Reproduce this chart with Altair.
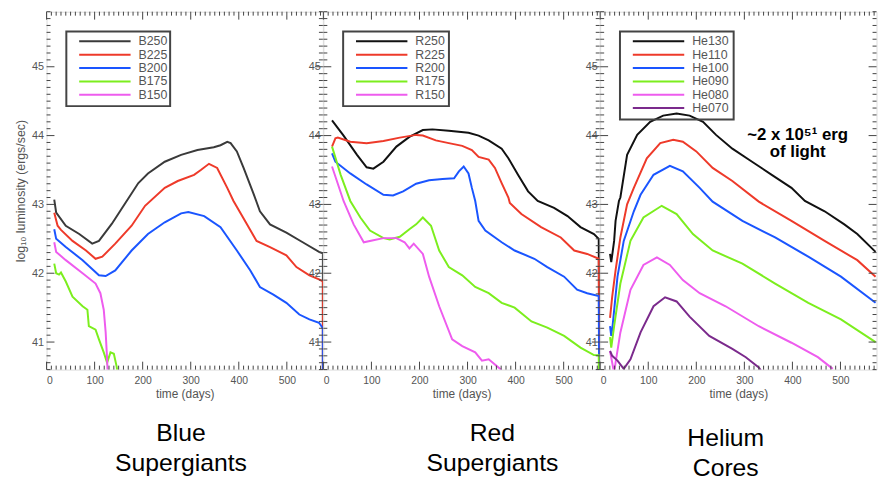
import altair as alt
import pandas as pd

# ---------------- data ----------------
blue_names = ["B250", "B225", "B200", "B175", "B150"]
red_names = ["R250", "R225", "R200", "R175", "R150"]
he_names = ["He130", "He110", "He100", "He090", "He080", "He070"]

colors6 = ["#111111", "#ee3a2a", "#1a55ff", "#7cee1e", "#ee5cee", "#7b2a8c"]

b250_t = [16, 20, 40, 68, 95, 109, 136, 164, 191, 211, 246, 280, 314, 348, 362, 376, 383, 396, 410, 431, 444, 465, 499, 533, 567, 575, 575]
b250_L = [43.07, 42.88, 42.69, 42.57, 42.43, 42.47, 42.72, 43.02, 43.31, 43.45, 43.62, 43.72, 43.79, 43.83, 43.86, 43.91, 43.89, 43.77, 43.53, 43.15, 42.90, 42.71, 42.59, 42.45, 42.31, 42.29, 39.0]
b225_t = [16, 23, 30, 54, 82, 102, 116, 143, 177, 205, 246, 273, 307, 321, 338, 355, 376, 389, 417, 437, 465, 499, 520, 547, 567, 575, 575]
b225_L = [42.88, 42.69, 42.63, 42.47, 42.33, 42.21, 42.24, 42.43, 42.69, 42.98, 43.24, 43.34, 43.43, 43.50, 43.59, 43.53, 43.24, 43.05, 42.71, 42.47, 42.38, 42.26, 42.09, 41.97, 41.91, 41.88, 39.0]
b200_t = [16, 20, 40, 75, 109, 123, 143, 177, 211, 246, 280, 295, 328, 362, 396, 424, 444, 472, 499, 526, 547, 567, 575, 575]
b200_L = [42.64, 42.50, 42.38, 42.19, 41.97, 41.96, 42.04, 42.33, 42.57, 42.74, 42.87, 42.89, 42.83, 42.67, 42.33, 42.04, 41.80, 41.69, 41.57, 41.40, 41.33, 41.28, 41.20, 39.0]
b175_t = [16, 20, 26, 30, 40, 54, 75, 85, 88, 102, 109, 119, 126, 133, 140, 146, 150]
b175_L = [42.14, 42.00, 41.98, 42.01, 41.88, 41.66, 41.52, 41.47, 41.23, 41.18, 41.04, 40.85, 40.70, 40.85, 40.83, 40.64, 40.40]
b150_t = [16, 20, 40, 75, 102, 112, 119, 123, 126, 128]
b150_L = [42.45, 42.31, 42.19, 42.00, 41.85, 41.71, 41.47, 41.14, 40.75, 40.40]

r250_t = [18, 42, 70, 90, 104, 125, 152, 179, 207, 227, 261, 302, 323, 344, 371, 385, 405, 426, 446, 480, 508, 535, 563, 573, 575]
r250_L = [44.22, 44.00, 43.72, 43.54, 43.52, 43.62, 43.84, 43.98, 44.08, 44.09, 44.07, 44.04, 44.00, 43.93, 43.81, 43.67, 43.43, 43.19, 43.05, 42.95, 42.83, 42.67, 42.57, 42.50, 39.0]
r225_t = [18, 25, 30, 56, 90, 125, 159, 193, 207, 234, 261, 289, 309, 323, 344, 357, 371, 385, 388, 412, 453, 494, 522, 549, 573, 575]
r225_L = [43.84, 43.96, 43.97, 43.91, 43.89, 43.92, 43.97, 44.01, 44.00, 43.93, 43.89, 43.85, 43.79, 43.69, 43.65, 43.53, 43.31, 43.10, 43.02, 42.86, 42.67, 42.52, 42.33, 42.28, 42.21, 39.0]
r200_t = [18, 25, 56, 90, 125, 145, 166, 193, 220, 248, 272, 282, 292, 302, 309, 316, 323, 337, 371, 398, 439, 466, 501, 528, 549, 573, 575]
r200_L = [43.74, 43.62, 43.45, 43.29, 43.14, 43.13, 43.19, 43.30, 43.35, 43.37, 43.38, 43.48, 43.55, 43.45, 43.24, 43.05, 42.76, 42.62, 42.45, 42.33, 42.21, 42.09, 41.95, 41.76, 41.71, 41.67, 39.0]
r175_t = [18, 36, 56, 77, 97, 125, 138, 159, 179, 193, 207, 224, 241, 261, 289, 316, 344, 371, 398, 433, 466, 501, 535, 563, 573, 575]
r175_L = [43.84, 43.43, 43.05, 42.81, 42.62, 42.51, 42.49, 42.53, 42.64, 42.71, 42.81, 42.69, 42.33, 42.09, 41.97, 41.80, 41.71, 41.57, 41.50, 41.30, 41.21, 41.09, 40.92, 40.81, 40.81, 39.0]
r150_t = [18, 42, 63, 84, 104, 125, 152, 169, 179, 188, 207, 220, 241, 268, 289, 316, 330, 344, 368, 375]
r150_L = [43.55, 43.05, 42.71, 42.45, 42.48, 42.51, 42.51, 42.45, 42.36, 42.43, 42.28, 41.95, 41.52, 41.04, 40.94, 40.85, 40.73, 40.75, 40.61, 40.50]

he130_t = [20.5, 23, 29, 32, 39, 42, 56, 77, 104, 131, 159, 186, 214, 241, 275, 316, 357, 398, 426, 467, 508, 535, 573]
he130_L = [42.28, 42.16, 42.47, 42.76, 43.05, 43.10, 43.72, 44.01, 44.20, 44.29, 44.32, 44.29, 44.20, 44.01, 43.81, 43.62, 43.43, 43.24, 43.05, 42.90, 42.71, 42.57, 42.31]
he110_t = [20.5, 25, 32, 42, 56, 70, 97, 125, 152, 172, 200, 234, 275, 330, 398, 467, 535, 573]
he110_L = [41.35, 41.66, 42.04, 42.52, 43.00, 43.24, 43.67, 43.89, 43.94, 43.91, 43.77, 43.53, 43.34, 43.04, 42.76, 42.47, 42.19, 41.95]
he100_t = [20.5, 23, 26, 36, 49, 70, 84, 111, 145, 172, 207, 234, 296, 364, 433, 501, 573]
he100_L = [41.23, 41.09, 41.25, 41.95, 42.47, 42.90, 43.14, 43.43, 43.56, 43.48, 43.24, 43.04, 42.76, 42.52, 42.24, 41.95, 41.57]
he090_t = [20.5, 23, 29, 42, 63, 90, 128, 159, 193, 234, 296, 364, 433, 501, 573]
he090_L = [41.07, 40.92, 41.23, 41.85, 42.47, 42.81, 42.98, 42.86, 42.57, 42.33, 42.14, 41.85, 41.57, 41.33, 41.00]
he080_t = [20.5, 25, 29, 32, 42, 63, 90, 118, 145, 172, 207, 261, 330, 398, 453, 484]
he080_L = [40.87, 40.70, 40.55, 40.70, 41.14, 41.76, 42.12, 42.23, 42.12, 41.90, 41.71, 41.52, 41.23, 40.99, 40.78, 40.61]
he070_t = [20.5, 25, 36, 49, 63, 84, 111, 135, 159, 186, 227, 275, 303, 330, 335]
he070_L = [40.87, 40.80, 40.73, 40.61, 40.75, 41.14, 41.52, 41.65, 41.59, 41.37, 41.09, 40.90, 40.78, 40.63, 40.58]

x_label_values = [0, 100, 200, 300, 400, 500]
y_label_values = [41, 42, 43, 44, 45]
x_major = [0, 100, 200, 300, 400, 500]
x_minor = [v for v in range(10, 575, 10) if v % 100 != 0]
y_major = [41, 42, 43, 44, 45]
y_minor = [round(40.6 + 0.1 * k, 1) for k in range(0, 53) if abs((40.6 + 0.1 * k) - round(40.6 + 0.1 * k)) > 1e-6]

captions = ["Blue\nSupergiants", "Red\nSupergiants", "Helium\nCores"]
annotation = "~2 x 10\u2075\u00b9 erg\nof light"

# ---------------- layout / style ----------------
W, H = 279.5, 362
XMAX = 575
YMIN, YMAX = 40.6, 45.8
FRAME = "#444444"
GREY = "#555555"

xs = alt.Scale(domain=[0, XMAX], nice=False, zero=False)
ys = alt.Scale(domain=[YMIN, YMAX], nice=False, zero=False)


def axes(first):
    yaxis = alt.Axis(values=y_label_values, format="d", domain=False, ticks=False, grid=False,
                     labelFontSize=11, labelColor=GREY, labelPadding=3,
                     title="log\u2081\u2080 luminosity (ergs/sec)" if first else None,
                     titleFontSize=12.5, titleColor=GREY, titleFontWeight="normal", titlePadding=4)
    xaxis = alt.Axis(values=x_label_values, format="d", domain=False, ticks=False, grid=False,
                     labelFontSize=10.5, labelColor=GREY, labelPadding=6,
                     title="time (days)", titleFontSize=12, titleColor=GREY,
                     titleFontWeight="normal", titlePadding=3)
    return xaxis, yaxis


def tick_layers(xaxis, yaxis):
    layers = []
    for vals, ln in ((x_major, 8), (x_minor, 4)):
        d = alt.Chart(pd.DataFrame({"v": vals}))
        layers.append(d.mark_rule(color=FRAME, strokeWidth=1).encode(
            x=alt.X("v:Q", scale=xs, axis=xaxis), y=alt.value(H), y2=alt.value(H - ln)))
        layers.append(d.mark_rule(color=FRAME, strokeWidth=1).encode(
            x=alt.X("v:Q", scale=xs, axis=xaxis), y=alt.value(0), y2=alt.value(ln)))
    for vals, ln in ((y_major, 8), (y_minor, 4)):
        d = alt.Chart(pd.DataFrame({"v": vals}))
        layers.append(d.mark_rule(color=FRAME, strokeWidth=1).encode(
            y=alt.Y("v:Q", scale=ys, axis=yaxis), x=alt.value(0), x2=alt.value(ln)))
        layers.append(d.mark_rule(color=FRAME, strokeWidth=1).encode(
            y=alt.Y("v:Q", scale=ys, axis=yaxis), x=alt.value(W), x2=alt.value(W - ln)))
    return layers


def make_panel(names, colors, series, caption, cap_x, cap_y, box_right, first, annot=False):
    rows = []
    for name, (t, L) in zip(names, series):
        for i, (a, b) in enumerate(zip(t, L)):
            rows.append({"name": name, "t": a, "L": b, "i": i})
    df = pd.DataFrame(rows)
    cs = alt.Scale(domain=names, range=colors)
    xaxis, yaxis = axes(first)

    lines = alt.Chart(df).mark_line(strokeWidth=2, clip=True).encode(
        x=alt.X("t:Q", scale=xs, axis=xaxis),
        y=alt.Y("L:Q", scale=ys, axis=yaxis),
        color=alt.Color("name:N", scale=cs, legend=None),
        order=alt.Order("i:Q"),
    )

    n = len(names)
    leg = alt.Chart(pd.DataFrame({"name": names, "row": list(range(n))})).transform_calculate(
        ly="30 + 13.5 * datum.row")
    leg_lines = leg.mark_rule(strokeWidth=2).encode(
        x=alt.value(33), x2=alt.value(85),
        y=alt.Y("ly:Q", scale=None),
        color=alt.Color("name:N", scale=cs, legend=None))
    leg_text = leg.mark_text(align="left", baseline="middle", fontSize=12.5, color=GREY).encode(
        x=alt.value(93), y=alt.Y("ly:Q", scale=None), text="name:N")
    leg_box = alt.Chart(pd.DataFrame({"a": [0]})).mark_rect(
        fill="white", fillOpacity=0, stroke=FRAME, strokeWidth=2).encode(
        x=alt.value(20), x2=alt.value(box_right),
        y=alt.value(20), y2=alt.value(20 + 13.5 * n + 8))

    cap = alt.Chart(pd.DataFrame({"c": [caption]})).mark_text(
        align="center", baseline="alphabetic", fontSize=25, lineHeight=31, lineBreak="\n",
        color="black").encode(x=alt.value(cap_x), y=alt.value(cap_y), text="c:N")

    layers = [lines] + tick_layers(xaxis, yaxis) + [leg_box, leg_lines, leg_text, cap]
    if annot:
        ann = alt.Chart(pd.DataFrame({"t": [411], "L": [43.94], "s": [annotation]})).mark_text(
            align="center", baseline="alphabetic", fontSize=17, fontWeight="bold",
            lineHeight=18, lineBreak="\n", color="black").encode(
            x=alt.X("t:Q", scale=xs, axis=xaxis), y=alt.Y("L:Q", scale=ys, axis=yaxis), text="s:N")
        layers.append(ann)
    return alt.layer(*layers).properties(width=W, height=H)


b_colors = ["#3a3a3a"] + colors6[1:5]
p1 = make_panel(blue_names, b_colors,
                [(b250_t, b250_L), (b225_t, b225_L), (b200_t, b200_L), (b175_t, b175_L), (b150_t, b150_L)],
                captions[0], 136, 434, 125, True)
p2 = make_panel(red_names, colors6[:5],
                [(r250_t, r250_L), (r225_t, r225_L), (r200_t, r200_L), (r175_t, r175_L), (r150_t, r150_L)],
                captions[1], 171, 434, 127, False)
p3 = make_panel(he_names, colors6,
                [(he130_t, he130_L), (he110_t, he110_L), (he100_t, he100_L), (he090_t, he090_L),
                 (he080_t, he080_L), (he070_t, he070_L)],
                captions[2], 127, 439, 135, False, annot=True)

chart = alt.hconcat(p1, p2, p3, spacing=0, bounds="flush").resolve_scale(
    color="independent").properties(
    padding={"left": 6, "top": 0, "right": 0, "bottom": 0}).configure_view(
    stroke=FRAME, strokeWidth=1.5).configure(font="Liberation Sans", background="white")

chart.save("out.html", embed_options={"renderer": "svg", "actions": False})
